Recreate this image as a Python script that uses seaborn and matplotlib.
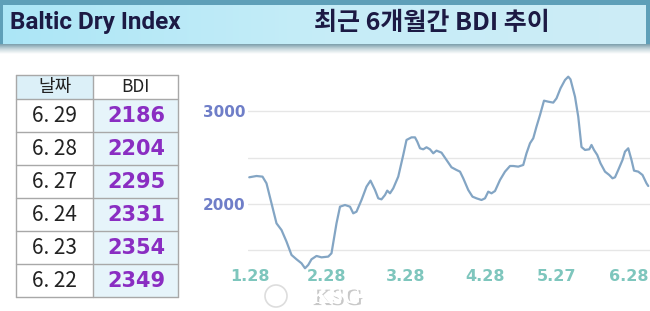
import numpy as np
import pandas as pd
import matplotlib
matplotlib.use("Agg")
import matplotlib.pyplot as plt
import matplotlib.patheffects as pe
from matplotlib.patches import Rectangle, Circle
from matplotlib.colors import LinearSegmentedColormap
import seaborn as sns

# ---------------- data ----------------
days = [0.0, 2.9, 5.3, 6.9, 8.9, 10.9, 12.9, 14.9, 16.9, 18.9, 20.9, 22.3, 23.6, 24.9,
        26.9, 28.9, 31.6, 32.9, 34.9, 36.3, 38.3, 40.3, 41.6, 42.9, 44.9, 46.9, 48.5,
        50.3, 51.6, 52.9, 54.3, 55.2, 56.3, 57.6, 59.6, 61.6, 62.9, 64.9, 66.3, 67.2,
        68.3, 69.6, 70.9, 72.3, 73.6, 74.9, 76.9, 78.9, 80.9, 82.9, 84.3, 85.6, 87.6,
        89.3, 90.9, 92.9, 94.3, 95.6, 96.9, 98.3, 100.3, 102.3, 104.3, 105.6, 107.6,
        109.6, 110.9, 112.3, 113.6, 114.9, 116.3, 117.9, 119.6, 121.6, 122.9, 124.5,
        126.3, 127.6, 128.5, 130.3, 131.6, 132.9, 134.3, 136.0, 136.9, 137.9, 139.2,
        140.5, 142.3, 144.0, 145.3, 146.3, 147.6, 149.3, 150.3, 151.6, 152.9, 153.9,
        155.6, 157.3, 158.9, 159.6]
bdi = [2288, 2302, 2295, 2223, 2007, 1791, 1719, 1594, 1450, 1403, 1360, 1306, 1342, 1403,
       1439, 1424, 1432, 1468, 1791, 1971, 1989, 1971, 1899, 1917, 2043, 2187, 2252,
       2151, 2061, 2050, 2097, 2144, 2115, 2169, 2295, 2529, 2691, 2719, 2719, 2673,
       2601, 2590, 2612, 2590, 2547, 2576, 2554, 2475, 2396, 2367, 2349, 2277, 2151,
       2079, 2061, 2043, 2061, 2133, 2115, 2140, 2259, 2349, 2410, 2410, 2403,
       2421, 2547, 2655, 2709, 2835, 2960, 3115, 3104, 3094, 3140, 3248,
       3338, 3374, 3345, 3158, 2942, 2615, 2583, 2590, 2637, 2583, 2529,
       2439, 2349, 2313, 2277, 2288, 2367, 2475, 2565, 2601, 2475, 2360,
       2349, 2313, 2223, 2194]

xtick_pos = [0.3, 30.9, 62.7, 94.3, 122.9, 152.0]
xtick_labels = ["1.28", "2.28", "3.28", "4.28", "5.27", "6.28"]
ytick_pos = [1500, 2000, 2500, 3000]
ytick_labels = ["", "2000", "", "3000"]

table_dates = ["6. 29", "6. 28", "6. 27", "6. 24", "6. 23", "6. 22"]
table_values = ["2186", "2204", "2295", "2331", "2354", "2349"]
table_header = ["날짜", "BDI"]

title_left = "Baltic Dry Index"
title_right = "최근 6개월간 BDI 추이"
watermark = "KSG"

# ---------------- figure ----------------
sns.set_style("white")
plt.rcParams["font.family"] = ["DejaVu Sans"]

W, H = 650, 311
fig = plt.figure(figsize=(W / 100, H / 100), dpi=100)
fig.patch.set_facecolor("white")


def fx(px):
    return px / W


def fy(py):
    return 1 - py / H


# background axes for decorations
bg = fig.add_axes([0, 0, 1, 1], zorder=0)
bg.axis("off")

# header bar
bg.add_patch(Rectangle((0, 0), W, 50, facecolor="#5e9fb8", edgecolor="none"))
grad = np.linspace(0, 1, 256).reshape(1, -1)
cm_head = LinearSegmentedColormap.from_list("h", ["#ace6f6", "#c6edf8", "#cdecf6"])
bg.imshow(grad, extent=(3, 646, 44, 5), cmap=cm_head, aspect="auto", zorder=1)
cm_sh = LinearSegmentedColormap.from_list("s", ["#7b9eab", "#c9d9de", "#ffffff"])
bg.imshow(np.linspace(0, 1, 64).reshape(-1, 1), extent=(0, W, 54, 44), cmap=cm_sh,
          aspect="auto", zorder=1)
bg.set_xlim(0, W)
bg.set_ylim(H, 0)

bg.text(10, 23, title_left, fontsize=17.5, fontweight="bold", color="#1c1a44",
        va="center", ha="left", family=["Roboto", "DejaVu Sans"], zorder=3)
bg.text(432, 23, title_right, fontsize=18, fontweight="heavy", color="#1c1a44",
        va="center", ha="center", family=["Noto Sans CJK KR", "DejaVu Sans"], zorder=3)

# table
tx0, tx1, tx2 = 16, 93, 178
row_edges = [75, 99.3, 132.3, 165.3, 198.3, 231.3, 264.3, 297.3]
bg.add_patch(Rectangle((tx0, row_edges[0]), tx1 - tx0, row_edges[1] - row_edges[0],
                       facecolor="#dcf0f8", edgecolor="none", zorder=2))
for i in range(len(table_dates)):
    y0, y1 = row_edges[i + 1], row_edges[i + 2]
    bg.add_patch(Rectangle((tx1, y0), tx2 - tx1, y1 - y0, facecolor="#e6f4fa",
                           edgecolor="none", zorder=2))
for y in row_edges:
    bg.plot([tx0, tx2], [y, y], color="#a8a8a8", lw=1, zorder=3)
for x in (tx0, tx1, tx2):
    bg.plot([x, x], [row_edges[0], row_edges[-1]], color="#a8a8a8", lw=1, zorder=3)

kfam = ["Noto Sans CJK KR", "DejaVu Sans"]
hy = (row_edges[0] + row_edges[1]) / 2
bg.text((tx0 + tx1) / 2, hy, table_header[0], fontsize=13, color="#222222",
        ha="center", va="center", family=kfam, zorder=4)
bg.text((tx1 + tx2) / 2, hy, table_header[1], fontsize=12.5, color="#222222",
        ha="center", va="center", family=kfam, zorder=4)
for i, (d, v) in enumerate(zip(table_dates, table_values)):
    cy = (row_edges[i + 1] + row_edges[i + 2]) / 2
    bg.text((tx0 + tx1) / 2, cy, d, fontsize=15, color="#222222",
            ha="center", va="center", family=kfam, zorder=4)
    bg.text((tx1 + tx2) / 2 + 1, cy, v, fontsize=15, fontweight="bold", color="#8a2dc2",
            ha="center", va="center", family=["DejaVu Sans"], zorder=4)

# ---------------- chart ----------------
ax = fig.add_axes([fx(248), fy(268), fx(650 - 248), (268 - 70) / H], zorder=2)
ax.patch.set_alpha(0)
df = pd.DataFrame({"day": days, "BDI": bdi})
sns.lineplot(data=df, x="day", y="BDI", ax=ax, color="#83a5c4", lw=1.6)
for l in ax.lines:
    l.set_clip_on(False)
ax.set_xlim(-0.5, 160.3)
ax.set_ylim(1309, 3446)
ax.set_yticks(ytick_pos)
ax.set_yticklabels(ytick_labels)
ax.set_xticks(xtick_pos)
ax.set_xticklabels(xtick_labels)
ax.grid(axis="y", color="#e6e6e6", lw=1)
ax.set_axisbelow(True)
ax.tick_params(axis="both", length=0)
ax.tick_params(axis="y", pad=2, labelsize=11, labelcolor="#6f7ec8")
ax.tick_params(axis="x", pad=1, labelsize=11.5, labelcolor="#7ec6bd")
for t in ax.get_yticklabels() + ax.get_xticklabels():
    t.set_fontweight("bold")
ax.set_xlabel("")
ax.set_ylabel("")
for s in ax.spines.values():
    s.set_visible(False)

# watermark
wm = fig.add_axes([0, 0, 1, 1], zorder=5)
wm.set_xlim(0, W)
wm.set_ylim(H, 0)
wm.axis("off")
wm.add_patch(Circle((276, 296), 11, facecolor="white", edgecolor="#dddddd", lw=1.2))
wm.text(336, 297.5, watermark, fontsize=17, fontweight="bold", color="white",
        family=["Liberation Serif", "DejaVu Serif"], ha="center", va="center",
        path_effects=[pe.withSimplePatchShadow(offset=(1.5, -1.5), shadow_rgbFace="#bbbbbb", alpha=0.8),
                      pe.Normal()])

fig.savefig("out.png", dpi=100)
